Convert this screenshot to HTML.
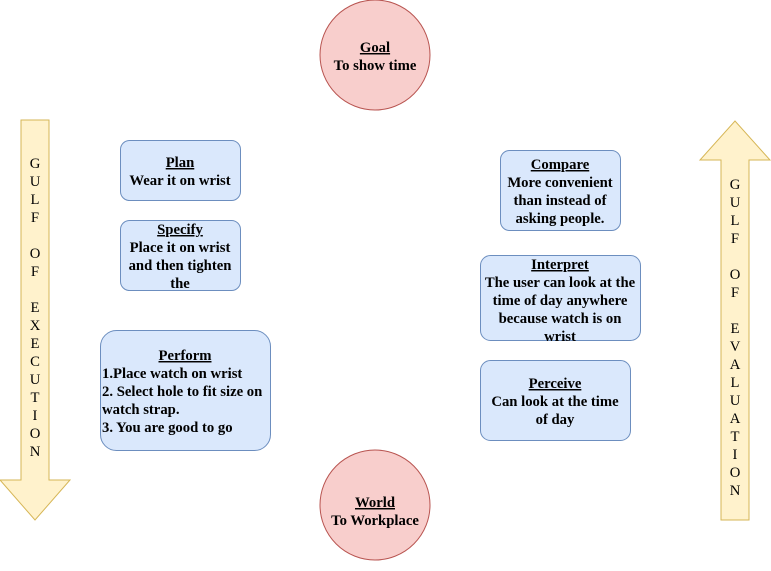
<!DOCTYPE html>
<html><head><meta charset="utf-8"><style>
html,body{margin:0;padding:0;background:#fff;}
svg{display:block;}
svg text{font-family:"Liberation Serif","Times New Roman",Times,"DejaVu Serif",serif;font-size:14.7px;}
.b{font-weight:bold;}
</style></head><body>
<svg width="771" height="571" viewBox="0 0 771 571" xmlns="http://www.w3.org/2000/svg" font-family="Liberation Serif, Times New Roman, serif">
<polygon points="21,120 49,120 49,480 70,480 35,520 0,480 21,480" fill="#fff2cc" stroke="#d6b656"/>
<polygon points="721,520 749,520 749,160 770,160 735,121 700,160 721,160" fill="#fff2cc" stroke="#d6b656"/>
<circle cx="375" cy="55" r="55" fill="#f8cecc" stroke="#b85450"/>
<circle cx="375" cy="505" r="55" fill="#f8cecc" stroke="#b85450"/>
<g fill="#dae8fc" stroke="#6c8ebf">
<rect x="120.5" y="140.5" width="120" height="60" rx="9"/>
<rect x="120.5" y="220.5" width="120" height="70" rx="9"/>
<rect x="100.5" y="330.5" width="170" height="120" rx="16"/>
<rect x="500.5" y="150.5" width="120" height="80" rx="9"/>
<rect x="480.5" y="255.5" width="160" height="85" rx="10"/>
<rect x="480.5" y="360.5" width="150" height="80" rx="10"/>
</g>
<g class="b" font-weight="bold" text-anchor="middle" fill="#000">
<text x="375" y="52" text-decoration="underline">Goal</text>
<text x="375" y="70">To show time</text>
<text x="375" y="507" text-decoration="underline">World</text>
<text x="375" y="525">To Workplace</text>
<text x="180" y="167" text-decoration="underline">Plan</text>
<text x="180" y="185">Wear it on wrist</text>
<text x="180" y="234" text-decoration="underline">Specify</text>
<text x="180" y="252">Place it on wrist</text>
<text x="180" y="270">and then tighten</text>
<text x="180" y="288">the</text>
<text x="185" y="360" text-decoration="underline">Perform</text>
<text x="560" y="169" text-decoration="underline">Compare</text>
<text x="560" y="187">More convenient</text>
<text x="560" y="205">than instead of</text>
<text x="560" y="223">asking people.</text>
<text x="560" y="269" text-decoration="underline">Interpret</text>
<text x="560" y="287">The user can look at the</text>
<text x="560" y="305">time of day anywhere</text>
<text x="560" y="323">because watch is on</text>
<text x="560" y="341">wrist</text>
<text x="555" y="388" text-decoration="underline">Perceive</text>
<text x="555" y="406">Can look at the time</text>
<text x="555" y="424">of day</text>
</g>
<g class="b" font-weight="bold" fill="#000">
<text x="102" y="378">1.Place watch on wrist</text>
<text x="102" y="396">2. Select hole to fit size on</text>
<text x="102" y="414">watch strap.</text>
<text x="102" y="432">3. You are good to go</text>
</g>
<g text-anchor="middle" fill="#000">
<text x="35" y="168">G</text><text x="35" y="186">U</text><text x="35" y="204">L</text><text x="35" y="222">F</text>
<text x="35" y="258">O</text><text x="35" y="276">F</text>
<text x="35" y="312">E</text><text x="35" y="330">X</text><text x="35" y="348">E</text><text x="35" y="366">C</text><text x="35" y="384">U</text><text x="35" y="402">T</text><text x="35" y="420">I</text><text x="35" y="438">O</text><text x="35" y="456">N</text>
<text x="735" y="189">G</text><text x="735" y="207">U</text><text x="735" y="225">L</text><text x="735" y="243">F</text>
<text x="735" y="279">O</text><text x="735" y="297">F</text>
<text x="735" y="333">E</text><text x="735" y="351">V</text><text x="735" y="369">A</text><text x="735" y="387">L</text><text x="735" y="405">U</text><text x="735" y="423">A</text><text x="735" y="441">T</text><text x="735" y="459">I</text><text x="735" y="477">O</text><text x="735" y="495">N</text>
</g>
</svg>
</body></html>
